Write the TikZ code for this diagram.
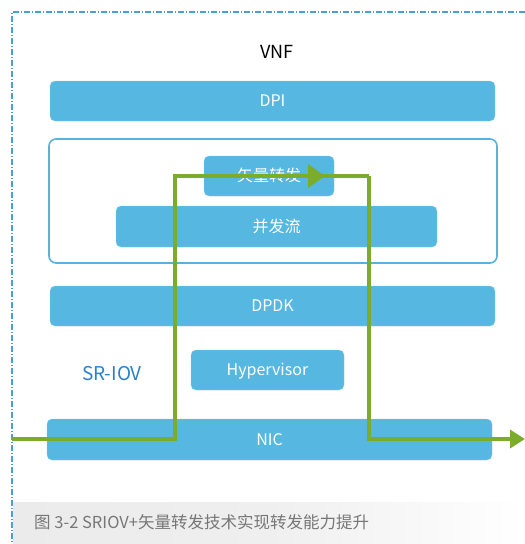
\documentclass[tikz,border=0pt]{standalone}
\usepackage{fontspec}
\setmainfont{Noto Sans CJK SC}
\usetikzlibrary{arrows.meta,shapes}

\definecolor{boxblue}{HTML}{56B7E0}
\definecolor{frameblue}{HTML}{5AB1DC}
\definecolor{dashblue}{HTML}{4A9FD6}
\definecolor{textblue}{HTML}{2C80C6}
\definecolor{pathgreen}{HTML}{7BAC2C}
\definecolor{capgray}{HTML}{EBEBEB}
\definecolor{captext}{HTML}{777777}

\begin{document}
\begin{tikzpicture}[
            x = 1pt, y = -1pt, % one unit per pixel, y downwards
            > = {Triangle[length=15pt,width=18pt]}, % arrow head style
            font = \fontsize{16}{18}\selectfont,
            inner sep = 0pt
        ]

        \tikzstyle{layer}=[
            fill = boxblue,
            draw = boxblue!70!white,
            rounded corners = 5pt,
            text = white,
            text height = 14pt,
            text depth = 3pt,
            minimum height = 40pt
        ]
        \tikzstyle{pathline}=[
            draw = pathgreen,
            line width = 3.5pt
        ]

        \useasboundingbox (0,0) rectangle (525,544);

        % caption band and dash-dot border
        \shade[left color = capgray, right color = white, middle color = capgray!80!white]
            (13,502) rectangle (525,544);
        \draw[dashblue, line width = 1.2pt, dash pattern = on 6pt off 2pt on 1pt off 2pt]
            (525,12) -- (12,12) -- (12,544);

        \node (vnf) at (277,52) {\fontsize{18}{20}\selectfont VNF};
        \node[layer, minimum width = 445pt] (dpi) at (272.5,101) {DPI};
        \node[draw = frameblue, line width = 1.6pt, rounded corners = 7pt,
              minimum width = 448pt, minimum height = 124pt] (frame) at (273,201) {};
        \node[layer, minimum width = 130pt] (vec) at (269,176) {矢量转发};
        \node[layer, minimum width = 321pt, minimum height = 41pt] (streams) at (276.5,226.5) {并发流};
        \node[layer, minimum width = 445pt] (dpdk) at (272.5,306) {DPDK};
        \node[text = textblue] (sriov) at (112,374) {\fontsize{19}{22}\selectfont SR-IOV};
        \node[layer, minimum width = 153pt] (hyp) at (267.5,370) {Hypervisor};
        \node[layer, minimum width = 445pt, minimum height = 41pt] (nic) at (269.5,439.5) {NIC};

        \node[anchor = west, text = captext] (cap) at (34,522)
            {\fontsize{16.5}{18}\selectfont 图 3-2 SRIOV+矢量转发技术实现转发能力提升};

        % packet path through the stack
        \coordinate (in) at (12,439);
        \coordinate (upL) at (175,176);
        \coordinate (upR) at (369,176);
        \coordinate (tip) at (325,176);
        \coordinate (out) at (525,439);

        \draw[pathline] (upL) -- (upR);
        \draw[pathline, ->] (upR) |- (out);
        \draw[pathline, -{Triangle[length=17pt,width=23pt]}] (in) -| (upL) -- (tip);

    \end{tikzpicture}
\end{document}
